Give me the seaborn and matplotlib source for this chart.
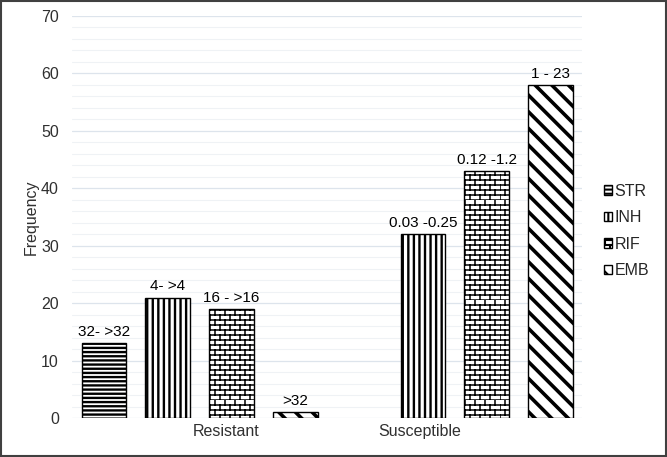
import matplotlib

matplotlib.use("Agg")
import matplotlib.hatch as mhatch
import matplotlib.pyplot as plt
import numpy as np
import pandas as pd
import seaborn as sns
from matplotlib.patches import Patch, Rectangle
from matplotlib.path import Path
from matplotlib.ticker import MultipleLocator

# data
groups = ["Resistant", "Susceptible"]
drugs = ["STR", "INH", "RIF", "EMB"]
resistant = [13, 21, 19, 1]
susceptible = [np.nan, 32, 43, 58]
resistant_labels = ["32- >32", "4- >4", "16 - >16", ">32"]
susceptible_labels = ["", "0.03 -0.25", "0.12 -1.2", "1 - 23"]
yticks = [0, 10, 20, 30, 40, 50, 60, 70]
hatches = ["----", "|||", "*", "\\\\"]
hatch_widths = [1.7, 1.7, 1.1, 2.6]


class BrickHatch(mhatch.HatchPatternBase):
    """Brick wall pattern, used in place of the star hatch ('*')."""

    def __init__(self, hatch, density):
        n = hatch.count("*")
        self.rows = n * density * 10 // 3
        self.cols = self.rows // 2
        self.num_vertices = 2 * self.rows + 2 * self.rows * self.cols

    def set_vertices_and_codes(self, vertices, codes):
        i = 0
        for r in range(self.rows):
            y0 = r / self.rows
            y1 = (r + 1) / self.rows
            vertices[i] = (0.0, y0)
            vertices[i + 1] = (1.0, y0)
            codes[i] = Path.MOVETO
            codes[i + 1] = Path.LINETO
            i += 2
            off = 0.5 / self.cols if r % 2 else 0.0
            for c in range(self.cols):
                x = c / self.cols + off
                vertices[i] = (x, y0)
                vertices[i + 1] = (x, y1)
                codes[i] = Path.MOVETO
                codes[i + 1] = Path.LINETO
                i += 2


mhatch._hatch_types[mhatch._hatch_types.index(mhatch.Stars)] = BrickHatch

sns.set_theme(style="white")
plt.rcParams["font.family"] = ["Liberation Sans", "DejaVu Sans"]
plt.rcParams["hatch.linewidth"] = 1.5
plt.rcParams["hatch.color"] = "black"


def style_hatch(patch, h, lw):
    patch.set_hatch(h)
    if hasattr(patch, "set_hatch_linewidth"):
        patch.set_hatch_linewidth(lw)


df = pd.DataFrame({
    "group": np.repeat(groups, len(drugs)),
    "drug": drugs * len(groups),
    "value": resistant + susceptible,
    "label": resistant_labels + susceptible_labels,
}).dropna(subset=["value"])

fig = plt.figure(figsize=(6.67, 4.57), dpi=100)
ax = fig.add_axes([0.108, 0.085, 0.765, 0.88])

sns.barplot(
    data=df, x="group", y="value", hue="drug", order=groups, hue_order=drugs,
    palette=["white"] * len(drugs), saturation=1, width=1.0, gap=0.3,
    edgecolor="black", linewidth=1.0, legend=False, ax=ax,
)

for cont, drug, h, lw in zip(ax.containers, drugs, hatches, hatch_widths):
    for bar in cont:
        bar.set_facecolor("white")
        bar.set_edgecolor("black")
        style_hatch(bar, h, lw)
    labels = df[df["drug"] == drug]["label"].tolist()
    ax.bar_label(cont, labels=labels, padding=3, fontsize=11, color="black")

ax.set_xlim(-0.5, 1.5)
ax.set_ylim(0, 70)
ax.set_yticks(yticks)
ax.yaxis.set_minor_locator(MultipleLocator(2))
ax.grid(axis="y", which="major", color="#dde4ec", linewidth=0.9)
ax.grid(axis="y", which="minor", color="#eff2f5", linewidth=0.8)
ax.set_axisbelow(True)
for s in ax.spines.values():
    s.set_visible(False)
ax.tick_params(axis="both", which="both", length=0, labelsize=11.5, colors="#303030")
ax.tick_params(axis="y", pad=9.5)
ax.tick_params(axis="x", pad=4)

# category labels sit off-centre in the original
ax.set_xticks([0.104, 0.862])
ax.set_xticklabels(groups)
ax.set_xlabel("")
ax.set_ylabel("Frequency", fontsize=11.5, color="#303030", labelpad=1.5)

handles = []
for h, lw in zip(hatches, hatch_widths):
    p = Patch(facecolor="white", edgecolor="black", linewidth=1.0)
    style_hatch(p, h, min(lw, 1.5))
    handles.append(p)
fig.legend(
    handles, drugs, loc="center left", bbox_to_anchor=(0.893, 0.495), frameon=False,
    fontsize=11.5, handlelength=0.55, handleheight=0.55, handletextpad=0.12,
    labelspacing=0.72, borderpad=0,
)

fig.patches.append(Rectangle((0.001, 0.002), 0.997, 0.996, transform=fig.transFigure,
                             fill=False, edgecolor="#404040", linewidth=1.5))

fig.savefig("out.png", dpi=100)
